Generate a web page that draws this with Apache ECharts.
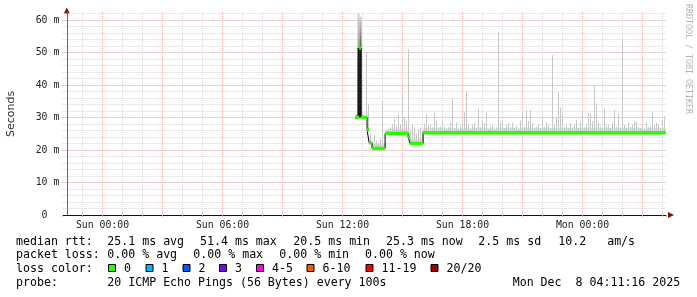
<!DOCTYPE html>
<html><head><meta charset="utf-8">
<script src="https://cdn.jsdelivr.net/npm/echarts@6/dist/echarts.min.js"></script>
<style>html,body{margin:0;padding:0;background:#fff}#c{width:697px;height:297px}</style>
</head><body><div id="c"></div>
<script>
// x values are hours relative to Sun 00:00
const xTickHours = [0, 6, 12, 18, 24];
const xTickLabels = ['Sun 00:00', 'Sun 06:00', 'Sun 12:00', 'Sun 18:00', 'Mon 00:00'];
const yTickValues = [0, 10, 20, 30, 40, 50, 60];
const yTickLabels = ['0\u00a0\u00a0', '10 m', '20 m', '30 m', '40 m', '50 m', '60 m'];
const xMin = -2, xMax = 28.1878;       // window ends Mon 04:11:16
const yMax = 62.46;                    // ms at top of plot
const majorGridHours = [0, 3, 6, 9, 12, 15, 18, 21, 24, 27];

// median rtt (ms): step start hour and value
const medianTimes  = [12.63, 12.83, 12.93, 13.23, 13.33, 13.48, 14.13, 15.28, 15.38, 16.03];
const medianValues = [30.0, 51.4, 30.0, 26.2, 22.2, 20.5, 25.1, 24.0, 22.0, 25.3];
const medianEnd = 28.15;

// smoke: highest ping (ms) per 6-minute column, from 12.7 h
const smokeStart = 12.7, smokeStep = 0.1;
const smokeTop = [
  31, 62, 61, 31, 30.5, 50, 34, 25, 22, 24.5,
  23, 22, 23.5, 35, 22, 26, 26.5, 27, 28, 29.5,
  27.5, 31, 28, 37, 30, 29, 51, 26, 28, 27,
  25, 26.5, 27, 26, 28, 31, 27.5, 28, 27, 31.5,
  29, 27, 27.2, 29.2, 27.2, 26.5, 27, 28.5, 36, 26.8,
  28.5, 26.5, 27.2, 28, 31.8, 38, 27.8, 26.5, 27.8, 28.3,
  26.8, 32.8, 27, 29, 28.2, 31.3, 26.5, 27.2, 27.8, 26.5,
  27, 56.4, 28.5, 29.2, 26.8, 27.8, 28.3, 27, 28.5, 26.8,
  27.3, 26.5, 29.2, 31.5, 27.2, 32.3, 29, 32.3, 28.3, 26.8,
  27.2, 28, 26.8, 30, 27, 28.5, 27.8, 26.8, 49.2, 27.8,
  30, 37.9, 33, 31, 27, 27.8, 26.8, 28.3, 27, 27.8,
  29.2, 26.8, 28.5, 30.8, 27, 27.8, 31.3, 31.3, 29, 40,
  34.4, 28.5, 27, 26.8, 32.8, 27.5, 27.8, 26.8, 28.5, 32.3,
  27.2, 31, 27, 53.8, 27.8, 26.8, 28.5, 27.2, 27.8, 28.8,
  28.8, 27, 26.8, 27.8, 26.5, 28.5, 27, 27.2, 31.8, 27.5,
  28.5, 27.8, 26.8, 29.2, 30.3
];
// dense core of the smoke in the spike columns
const coreTimes = [12.8, 12.9];
const coreLow = [30.0, 30.0];
const coreHigh = [51.4, 51.4];

// legend texts
const statRtt = ['median rtt:', '25.1 ms avg', '51.4 ms max', '20.5 ms min', '25.3 ms now', '2.5 ms sd', '10.2   am/s'];
const statLoss = ['packet loss:', '0.00 % avg', '0.00 % max', '0.00 % min', '0.00 % now'];
const lossTitle = 'loss color:';
const lossLabels = ['0', '1', '2', '3', '4-5', '6-10', '11-19', '20/20'];
const lossColors = ['#26ff00', '#00b8ff', '#0059ff', '#7e00ff', '#ff00ea', '#ff5500', '#ff0000', '#a10000'];
const probeTitle = 'probe:';
const probeText = '20 ICMP Echo Pings (56 Bytes) every 100s';
const dateText = 'Mon Dec  8 04:11:16 2025';
const yTitle = 'Seconds';
const watermark = 'RRDTOOL / TOBI OETIKER';

// ---- layout (pixels) ----
const rttX = [16, 107.3, 200, 293.3, 386, 478.3, 558.3];
const lossX = [16, 107.3, 193.3, 279.3, 365];
const swatchX = [108.5, 146, 183, 219.5, 256.5, 307, 366, 431];
const rowY = [241.7, 255, 269.3, 282.7];
const monoFont = '11.6px "DejaVu Sans Mono"';
const baseBand = 1.5;   // ms of smoke drawn as a continuous band above the median

function medianAt(t) {
  let v = medianValues[0];
  for (let i = 0; i < medianTimes.length; i++) if (t >= medianTimes[i] - 1e-9) v = medianValues[i];
  return v;
}
function coreIndex(t) {
  for (let i = 0; i < coreTimes.length; i++) if (Math.abs(coreTimes[i] - t) < 1e-6) return i;
  return -1;
}

const smokeData = smokeTop.map((v, i) => [smokeStart + i * smokeStep, v]);
const coreData = coreTimes.map((t, i) => [t, coreLow[i], coreHigh[i]]);
const medianLine = [];
const medianBands = [];
medianTimes.forEach((t, i) => {
  const t1 = i + 1 < medianTimes.length ? medianTimes[i + 1] : medianEnd;
  medianLine.push([t, medianValues[i]], [t1, medianValues[i]]);
  medianBands.push([t, t1, medianValues[i]]);
});

const graphics = [];
function txt(text, x, y, extra) {
  graphics.push({type: 'text', x: x, y: y, silent: true,
    style: Object.assign({text: text, font: monoFont, fill: '#000', textAlign: 'left', textVerticalAlign: 'middle'}, extra || {})});
}
statRtt.forEach((s, i) => txt(s, rttX[i], rowY[0]));
statLoss.forEach((s, i) => txt(s, lossX[i], rowY[1]));
txt(lossTitle, 16, rowY[2]);
lossLabels.forEach((s, i) => {
  graphics.push({type: 'rect', silent: true, shape: {x: swatchX[i], y: 264.5, width: 7, height: 7},
    style: {fill: lossColors[i], stroke: '#000', lineWidth: 1}});
  txt(s, swatchX[i] + 15.5, rowY[2]);
});
txt(probeTitle, 16, rowY[3]);
txt(probeText, 107.3, rowY[3]);
txt(dateText, 512.7, rowY[3]);
graphics.push({type: 'text', x: 11, y: 114, rotation: Math.PI / 2, silent: true,
  style: {text: yTitle, font: '11px "DejaVu Sans"', fill: '#333', textAlign: 'center', textVerticalAlign: 'middle'}});
graphics.push({type: 'text', x: 688, y: 59, rotation: -Math.PI / 2, silent: true,
  style: {text: watermark, font: '8.3px "DejaVu Sans Mono"', fill: '#b4b4b4', textAlign: 'center', textVerticalAlign: 'middle'}});
// axis arrows
graphics.push({type: 'polygon', silent: true, shape: {points: [[66.8, 7.5], [63.8, 13.5], [69.8, 13.5]]}, style: {fill: '#7f1010'}});
graphics.push({type: 'polygon', silent: true, shape: {points: [[674, 215], [668, 212], [668, 218]]}, style: {fill: '#7f1010'}});

const chart = echarts.init(document.getElementById('c'));
chart.setOption({
  animation: false,
  backgroundColor: '#fff',
  grid: {left: 62.5, right: 30.74, top: 12, bottom: 82},
  xAxis: {
    type: 'value', min: xMin, max: xMax, interval: 1,
    axisLine: {show: true, lineStyle: {color: '#111', width: 1}},
    axisTick: {show: true, length: 2, lineStyle: {color: '#bbb'}},
    axisLabel: {
      formatter: v => { const k = xTickHours.indexOf(Math.round(v * 1000) / 1000); return k >= 0 ? xTickLabels[k] : ''; },
      fontFamily: 'DejaVu Sans Mono', fontSize: 9.8, color: '#222', margin: 5, showMinLabel: true, showMaxLabel: true
    },
    splitLine: {show: true, showMinLine: false, showMaxLine: false, lineStyle: {color: '#d6d6d6', type: [1, 1], width: 1}}
  },
  yAxis: [
    {
      type: 'value', min: 0, max: yMax, interval: 2, position: 'left',
      axisLine: {show: false}, axisTick: {show: false}, axisLabel: {show: false},
      splitLine: {show: true, showMinLine: false, showMaxLine: false, lineStyle: {color: '#d6d6d6', type: [1, 1], width: 1}}
    },
    {
      type: 'value', min: 0, max: yMax, interval: 10, position: 'left', offset: -4.3,
      axisLine: {show: true, lineStyle: {color: '#666', width: 1}}, axisTick: {show: false},
      axisLabel: {
        formatter: v => { const k = yTickValues.indexOf(Math.round(v * 1000) / 1000); return k >= 0 ? yTickLabels[k] : ''; },
        fontFamily: 'DejaVu Sans Mono', fontSize: 9.8, color: '#222', margin: 7.5
      },
      splitLine: {show: true, showMinLine: false, showMaxLine: false, lineStyle: {color: '#ebb0b0', type: [1, 1], width: 1}}
    }
  ],
  graphic: {elements: graphics},
  series: [
    {
      type: 'custom', name: 'smoke', yAxisIndex: 1, z: 2, silent: true,
      data: smokeData,
      renderItem: function (params, api) {
        const t = api.value(0), top = api.value(1);
        const base = medianAt(t);
        const isCore = coreIndex(t) >= 0;
        const p0 = api.coord([t - smokeStep / 2, top]);
        const p1 = api.coord([t + smokeStep / 2, base]);
        const w = p1[0] - p0[0];
        if (isCore) {
          return {type: 'rect', shape: {x: p0[0], y: p0[1], width: w, height: p1[1] - p0[1]},
            style: {fill: new echarts.graphic.LinearGradient(0, 0, 0, 1, [{offset: 0, color: '#cfcfcf'}, {offset: 1, color: '#555'}])}};
        }
        const pb = api.coord([t, Math.min(top, base + baseBand)]);
        return {type: 'group', children: [
          {type: 'rect', shape: {x: p0[0], y: pb[1], width: w, height: p1[1] - pb[1]}, style: {fill: '#d6d6d6'}},
          {type: 'rect', shape: {x: Math.round(p0[0] + w / 2 - 0.5), y: p0[1], width: 1, height: p1[1] - p0[1]}, style: {fill: '#c8c8c8'}}
        ]};
      },
      markLine: {
        silent: true, symbol: ['none', 'none'], z: 1, label: {show: false},
        lineStyle: {color: '#ebb0b0', type: [1, 1], width: 1},
        data: majorGridHours.map(h => ({xAxis: h}))
      }
    },
    {
      type: 'custom', name: 'core', yAxisIndex: 1, z: 3, silent: true,
      data: coreData,
      renderItem: function (params, api) {
        const t = api.value(0);
        const p0 = api.coord([t - smokeStep / 2, api.value(2)]);
        const p1 = api.coord([t + smokeStep / 2, api.value(1)]);
        return {type: 'rect', shape: {x: p0[0], y: p0[1], width: p1[0] - p0[0], height: p1[1] - p0[1]}, style: {fill: '#2a2a2a'}};
      }
    },
    {
      type: 'line', name: 'median', yAxisIndex: 1, z: 4, silent: true,
      data: medianLine, showSymbol: false, symbol: 'none',
      lineStyle: {color: '#000', width: 1}
    },
    {
      type: 'custom', name: 'loss', yAxisIndex: 1, z: 5, silent: true,
      data: medianBands,
      renderItem: function (params, api) {
        const a = api.coord([api.value(0), api.value(2)]);
        const b = api.coord([api.value(1), api.value(2)]);
        return {type: 'rect', shape: {x: a[0], y: a[1] - 1.75, width: b[0] - a[0], height: 3.5}, style: {fill: lossColors[0]}};
      }
    }
  ]
});
</script>
</body></html>
